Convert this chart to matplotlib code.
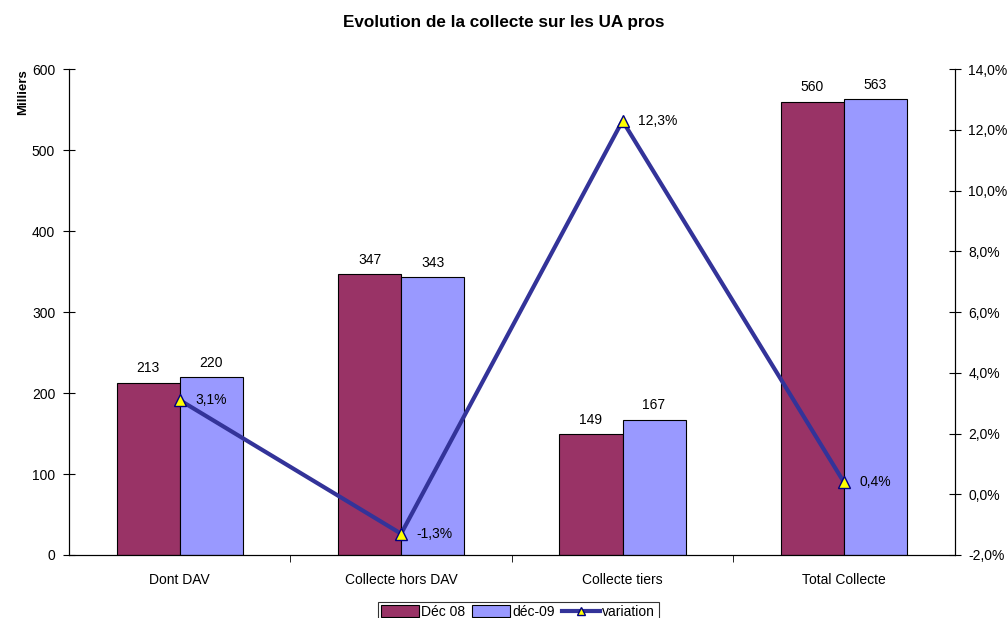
import matplotlib.pyplot as plt
from matplotlib.lines import Line2D
import numpy as np

plt.rcParams['font.family'] = ['Liberation Sans', 'DejaVu Sans']

categories = ["Dont DAV", "Collecte hors DAV", "Collecte tiers", "Total Collecte"]
dec08 = [213, 347, 149, 560]
dec09 = [220, 343, 167, 563]
variation = [3.1, -1.3, 12.3, 0.4]

fig = plt.figure(figsize=(10.08, 6.18), dpi=100)
ax = fig.add_axes([0.0685, 0.102, 0.8785, 0.786])
x = np.arange(len(categories))
w = 0.285

b1 = ax.bar(x - w / 2, dec08, w, color="#993366", edgecolor="black", linewidth=0.8, label="Déc 08", zorder=2)
b2 = ax.bar(x + w / 2, dec09, w, color="#9999FF", edgecolor="black", linewidth=0.8, label="déc-09", zorder=2)
for bars in (b1, b2):
    for r in bars:
        ax.text(r.get_x() + r.get_width() / 2, r.get_height() + 9, f"{r.get_height():.0f}",
                ha="center", va="bottom", fontsize=10)

ax.set_xlim(-0.5, len(categories) - 0.5)
ax.set_ylim(0, 600)
ax.set_yticks(range(0, 601, 100))
ax.set_xticks(x)
ax.set_xticklabels(categories, fontsize=10)
ax.tick_params(axis="x", length=0, pad=13)
ax.set_xticks(np.arange(0.5, len(categories) - 0.5), minor=True)
ax.tick_params(axis="x", which="minor", length=5, direction="out")
ax.tick_params(axis="y", direction="inout", length=8, labelsize=10, pad=6)
ax.spines["top"].set_visible(False)
ax.text(-0.052, 1.0, "Milliers", transform=ax.transAxes, rotation=90,
        ha="center", va="top", fontsize=9.5, fontweight="bold")

ax2 = ax.twinx()
ax2.set_ylim(-2, 14)
ticks2 = np.arange(-2, 14.1, 2)
ax2.set_yticks(ticks2)
ax2.set_yticklabels([f"{v:.1f}%".replace(".", ",") for v in ticks2])
ax2.tick_params(axis="y", direction="inout", length=8, labelsize=10, pad=6)
ax2.spines["top"].set_visible(False)
ax2.plot(x, variation, color="#333399", linewidth=3, marker="^", markersize=9,
         markerfacecolor="#FFFF00", markeredgecolor="#000080", markeredgewidth=1, zorder=3)
for xi, v in zip(x, variation):
    ax2.text(xi + 0.07, v, f"{v:.1f}%".replace(".", ","), ha="left", va="center", fontsize=10)

fig.suptitle("Evolution de la collecte sur les UA pros", y=0.975, fontsize=12.3, fontweight="bold")

ln = Line2D([], [], color="#333399", linewidth=3, marker="^", markersize=6,
            markerfacecolor="#FFFF00", markeredgecolor="#000080", markeredgewidth=1)
leg = fig.legend(handles=[b1, b2, ln], labels=["Déc 08", "déc-09", "variation"],
                 loc="lower center", bbox_to_anchor=(0.514, -0.014),
                 ncol=3, frameon=True, fancybox=False, edgecolor="black", fontsize=10,
                 handlelength=2.7, handleheight=0.9, handletextpad=0.2, columnspacing=0.5,
                 borderpad=0.25, borderaxespad=0.3)
leg.get_frame().set_linewidth(0.8)

fig.savefig("out.png", dpi=100)
